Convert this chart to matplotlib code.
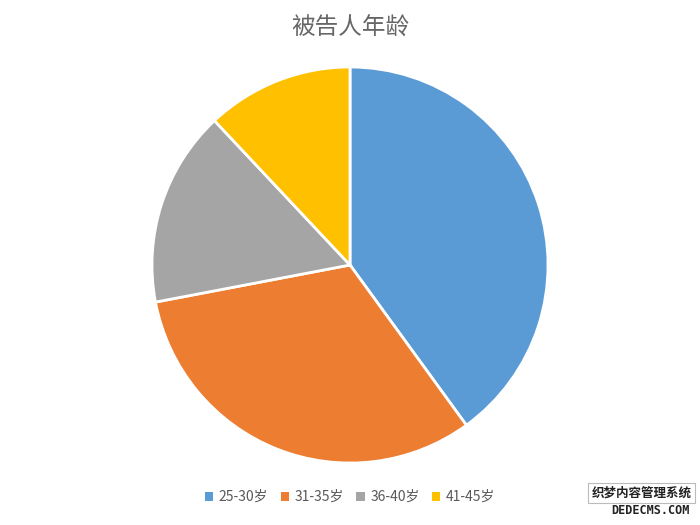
import matplotlib
matplotlib.use("Agg")
import matplotlib.pyplot as plt
from matplotlib.patches import Patch

plt.rcParams['font.family'] = ['Noto Sans CJK SC', 'DejaVu Sans']

title = "被告人年龄"
labels = ["25-30岁", "31-35岁", "36-40岁", "41-45岁"]
counts = [10, 8, 4, 3]
colors = ["#5B9BD5", "#ED7D31", "#A5A5A5", "#FFC000"]

fig = plt.figure(figsize=(7, 5.25), dpi=100)
fig.patch.set_facecolor("white")

W, H = 700, 525
cx, cy, r = 350, 265, 200
ax = fig.add_axes([(cx - r) / W, (H - cy - r) / H, 2 * r / W, 2 * r / H])
ax.pie(counts, colors=colors, startangle=90, counterclock=False,
       wedgeprops=dict(edgecolor="white", linewidth=2), radius=1.0)
ax.set_xlim(-1.01, 1.01)
ax.set_ylim(-1.01, 1.01)
ax.set_aspect("equal")
ax.axis("off")

fig.text(0.5, 1 - 28 / H, title, ha="center", va="center",
         fontsize=17, color="#666666")

handles = [Patch(facecolor=c, edgecolor="none") for c in colors]
fig.legend(handles, labels, loc="center", bbox_to_anchor=(0.5, 1 - 497 / H),
           ncol=4, frameon=False, fontsize=10, labelcolor="#595959",
           handlelength=0.6, handleheight=0.6, handletextpad=0.4,
           columnspacing=0.9)

# site stamp in the lower right corner
fig.text(0.988, 1 - 493 / H, "织梦内容管理系统", ha="right", va="center",
         fontsize=9, color="#222222", fontweight="bold",
         bbox=dict(boxstyle="square,pad=0.25", facecolor="white",
                   edgecolor="#bbbbbb", linewidth=0.8))
fig.text(0.985, 1 - 510 / H, "DEDECMS.COM", ha="right", va="center",
         fontsize=8.5, color="#222222", fontweight="bold", family="DejaVu Sans Mono")

fig.savefig("out.png", dpi=100, facecolor="white")
